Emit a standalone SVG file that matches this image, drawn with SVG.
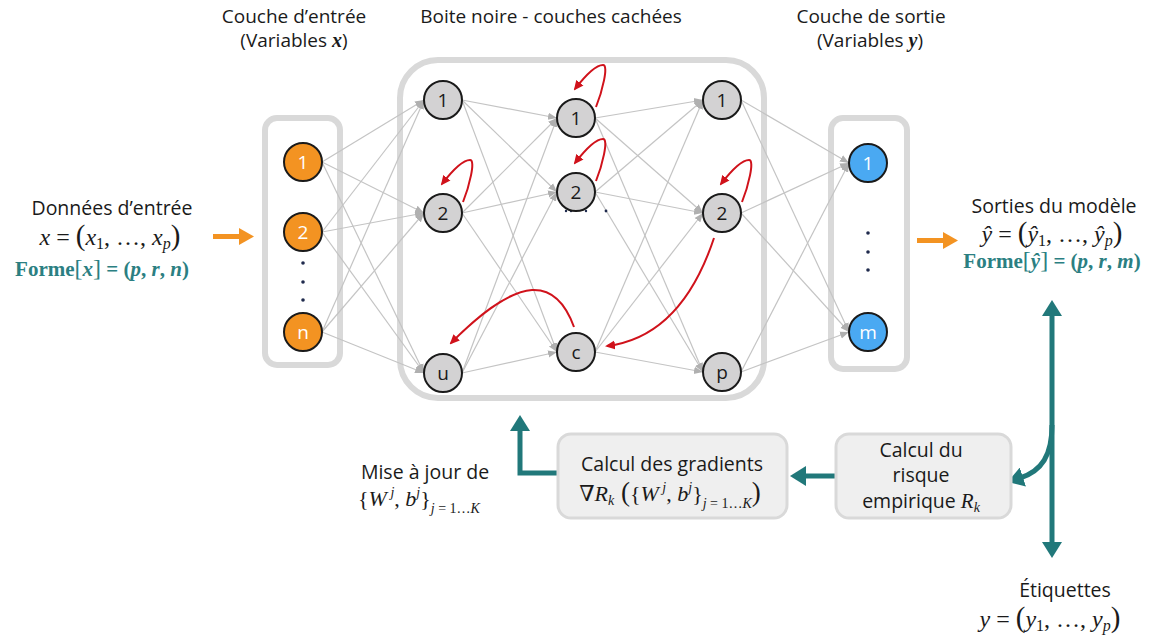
<svg xmlns="http://www.w3.org/2000/svg" width="1164" height="642" viewBox="0 0 1164 642">
  <style>
    .lbl { font-family: "Open Sans", "Noto Sans", sans-serif; font-size: 19.5px; fill: #1a1a1a; }
    .ttl { font-family: "Open Sans", "Noto Sans", sans-serif; font-size: 19px; fill: #1a1a1a; }
    .math { font-family: "Liberation Serif", "DejaVu Serif", serif; fill: #1a1a1a; }
    .forme { font-family: "Liberation Serif", "DejaVu Serif", serif; font-weight: bold; fill: #2b7f82; }
    .it { font-style: italic; }
    .frame { fill: #ffffff; stroke: #d9d9d9; stroke-width: 6; }
    .edge { stroke: #c4c4c4; stroke-width: 1.2; fill: none; marker-end: url(#grayHead); }
    .loop { stroke: #d0121b; stroke-width: 2; fill: none; marker-end: url(#redHead); }
    .teal { stroke: #21787a; stroke-width: 5; fill: none; }
    .node { stroke: #1a1a1a; stroke-width: 2; }
    .hid { fill: #d3d2d3; }
    .inp { fill: #f39322; }
    .out { fill: #4aa9f2; }
    .nl { font-family: "Open Sans", "Noto Sans", sans-serif; font-size: 19px; text-anchor: middle; }
    .dot { fill: #1f2a4d; }
    .box { fill: #efefef; stroke: #d9d9d9; stroke-width: 3; }
  </style>
  <defs>
    <marker id="grayHead" viewBox="0 0 10 10" refX="10" refY="5" markerWidth="9" markerHeight="9" markerUnits="userSpaceOnUse" orient="auto">
      <path d="M0,1 L10,5 L0,9 z" fill="#b0b0b0"/>
    </marker>
    <marker id="redHead" viewBox="0 0 10 10" refX="8" refY="5" markerWidth="10" markerHeight="10" markerUnits="userSpaceOnUse" orient="auto">
      <path d="M0,0.5 L10,5 L0,9.5 z" fill="#d0121b"/>
    </marker>
    <marker id="tealHead" viewBox="0 0 16 20" refX="3" refY="10" markerWidth="16" markerHeight="20" markerUnits="userSpaceOnUse" orient="auto-start-reverse">
      <path d="M0,0 L16,10 L0,20 z" fill="#21787a"/>
    </marker>
    <path id="selfLoop" d="M20,-11 C26,-26 33,-53 27,-53 C20,-53 9,-42 -1,-29"/>
  </defs>

  <!-- layer titles -->
  <g id="titles">
    <text class="ttl" x="294" y="23" text-anchor="middle">Couche d’entrée</text>
    <text class="ttl" x="294" y="47" text-anchor="middle">(Variables <tspan class="math it" font-weight="bold" font-size="20">x</tspan>)</text>
    <text class="ttl" x="551" y="23" text-anchor="middle">Boite noire - couches cachées</text>
    <text class="ttl" x="871" y="23" text-anchor="middle">Couche de sortie</text>
    <text class="ttl" x="870" y="47" text-anchor="middle">(Variables <tspan class="math it" font-weight="bold" font-size="20">y</tspan>)</text>
  </g>

  <!-- layer frames -->
  <g id="frames">
    <rect id="frame-input" class="frame" x="265" y="118" width="75" height="247" rx="12"/>
    <rect id="frame-hidden" class="frame" x="400" y="60" width="364" height="338" rx="38"/>
    <rect id="frame-output" class="frame" x="831" y="118" width="76" height="251" rx="12"/>
  </g>

  <!-- weighted connections between layers -->
  <g id="connectors">
    <path class="edge" d="M322,162 L424,100"/>
    <path class="edge" d="M322,162 L424,213"/>
    <path class="edge" d="M322,162 L424,373"/>
    <path class="edge" d="M322,232 L424,100"/>
    <path class="edge" d="M322,232 L424,213"/>
    <path class="edge" d="M322,232 L424,373"/>
    <path class="edge" d="M322,332 L424,100"/>
    <path class="edge" d="M322,332 L424,213"/>
    <path class="edge" d="M322,332 L424,373"/>

    <path class="edge" d="M462,100 L557,118"/>
    <path class="edge" d="M462,100 L557,192"/>
    <path class="edge" d="M462,100 L557,352"/>
    <path class="edge" d="M462,213 L557,118"/>
    <path class="edge" d="M462,213 L557,192"/>
    <path class="edge" d="M462,213 L557,352"/>
    <path class="edge" d="M462,373 L557,118"/>
    <path class="edge" d="M462,373 L557,192"/>
    <path class="edge" d="M462,373 L557,352"/>

    <path class="edge" d="M595,118 L703,100"/>
    <path class="edge" d="M595,118 L703,213"/>
    <path class="edge" d="M595,118 L703,372"/>
    <path class="edge" d="M595,192 L703,100"/>
    <path class="edge" d="M595,192 L703,213"/>
    <path class="edge" d="M595,192 L703,372"/>
    <path class="edge" d="M595,352 L703,100"/>
    <path class="edge" d="M595,352 L703,213"/>
    <path class="edge" d="M595,352 L703,372"/>

    <path class="edge" d="M741,100 L849,163"/>
    <path class="edge" d="M741,100 L849,332"/>
    <path class="edge" d="M741,213 L849,163"/>
    <path class="edge" d="M741,213 L849,332"/>
    <path class="edge" d="M741,372 L849,163"/>
    <path class="edge" d="M741,372 L849,332"/>

    <!-- recurrent links -->
    <use href="#selfLoop" class="loop" transform="translate(443,213)"/>
    <use href="#selfLoop" class="loop" transform="translate(576,118)"/>
    <use href="#selfLoop" class="loop" transform="translate(576,192)"/>
    <use href="#selfLoop" class="loop" transform="translate(722,213)"/>
    <path class="loop" d="M574,327 C565,302 552,289 532,290 C506,292 476,318 451,343"/>
    <path class="loop" d="M714,238 C700,280 672,338 607,346"/>

    <!-- data flow arrows -->
    <path d="M213,236.5 H241" stroke="#f39322" stroke-width="5" fill="none"/>
    <path d="M239,228 L254,236.5 L239,245 z" fill="#f39322"/>
    <path d="M917,240.5 H945" stroke="#f39322" stroke-width="5" fill="none"/>
    <path d="M943,232 L958,240.5 L943,249 z" fill="#f39322"/>

    <!-- training loop -->
    <path class="teal" d="M1052,313 V545" marker-start="url(#tealHead)" marker-end="url(#tealHead)"/>
    <path class="teal" d="M1052,425 C1052,455 1042,471 1020,478" marker-end="url(#tealHead)"/>
    <path class="teal" d="M835,476 H803" marker-end="url(#tealHead)"/>
    <path class="teal" d="M557,473 H520 V428" marker-end="url(#tealHead)"/>
  </g>

  <!-- input layer -->
  <g id="input-nodes">
    <g id="in-1"><circle class="node inp" cx="303" cy="162" r="19"/><text class="nl" x="303" y="168.5" fill="#ffffff">1</text></g>
    <g id="in-2"><circle class="node inp" cx="303" cy="232" r="19"/><text class="nl" x="303" y="238.5" fill="#ffffff">2</text></g>
    <g id="in-n"><circle class="node inp" cx="303" cy="332" r="19"/><text class="nl" x="303" y="338.5" fill="#ffffff">n</text></g>
    <circle class="dot" cx="303" cy="263" r="1.8"/>
    <circle class="dot" cx="303" cy="282" r="1.8"/>
    <circle class="dot" cx="303" cy="300" r="1.8"/>
  </g>

  <!-- hidden layers -->
  <g id="hidden-1">
    <g id="h1-1"><circle class="node hid" cx="443" cy="100" r="19"/><text class="nl" x="443" y="106.5" fill="#1a1a1a">1</text></g>
    <g id="h1-2"><circle class="node hid" cx="443" cy="213" r="19"/><text class="nl" x="443" y="219.5" fill="#1a1a1a">2</text></g>
    <g id="h1-u"><circle class="node hid" cx="443" cy="373" r="19"/><text class="nl" x="443" y="379.5" fill="#1a1a1a">u</text></g>
  </g>
  <g id="hidden-2">
    <circle class="dot" cx="566" cy="211" r="1.2"/>
    <circle class="dot" cx="571" cy="211" r="1.2"/>
    <circle class="dot" cx="586" cy="211" r="1.2"/>
    <circle class="dot" cx="606" cy="211" r="1.4"/>
    <g id="h2-1"><circle class="node hid" cx="576" cy="118" r="19"/><text class="nl" x="576" y="124.5" fill="#1a1a1a">1</text></g>
    <g id="h2-2"><circle class="node hid" cx="576" cy="192" r="19"/><text class="nl" x="576" y="198.5" fill="#1a1a1a">2</text></g>
    <g id="h2-c"><circle class="node hid" cx="576" cy="352" r="19"/><text class="nl" x="576" y="358.5" fill="#1a1a1a">c</text></g>
  </g>
  <g id="hidden-3">
    <g id="h3-1"><circle class="node hid" cx="722" cy="100" r="19"/><text class="nl" x="722" y="106.5" fill="#1a1a1a">1</text></g>
    <g id="h3-2"><circle class="node hid" cx="722" cy="213" r="19"/><text class="nl" x="722" y="219.5" fill="#1a1a1a">2</text></g>
    <g id="h3-p"><circle class="node hid" cx="722" cy="372" r="19"/><text class="nl" x="722" y="378.5" fill="#1a1a1a">p</text></g>
  </g>

  <!-- output layer -->
  <g id="output-nodes">
    <g id="out-1"><circle class="node out" cx="868" cy="163" r="19"/><text class="nl" x="868" y="169.5" fill="#ffffff">1</text></g>
    <g id="out-m"><circle class="node out" cx="868" cy="332" r="19"/><text class="nl" x="868" y="338.5" fill="#ffffff">m</text></g>
    <circle class="dot" cx="868" cy="233" r="1.8"/>
    <circle class="dot" cx="868" cy="252" r="1.8"/>
    <circle class="dot" cx="868" cy="270" r="1.8"/>
  </g>

  <!-- input data -->
  <g id="input-data">
    <text class="lbl" x="112" y="215" text-anchor="middle">Données d’entrée</text>
    <text class="math" x="110" y="245" font-size="24" text-anchor="middle"><tspan class="it">x</tspan> = <tspan font-size="29">(</tspan><tspan class="it">x</tspan><tspan font-size="16" dy="4">1</tspan><tspan dy="-4">, …, </tspan><tspan class="it">x</tspan><tspan class="it" font-size="16" dy="4">p</tspan><tspan dy="-4" font-size="29">)</tspan></text>
    <text class="forme" x="102" y="276" font-size="21" text-anchor="middle">Forme<tspan font-weight="normal" font-size="24">[</tspan><tspan class="it">x</tspan><tspan font-weight="normal" font-size="24">]</tspan> = (<tspan class="it">p</tspan>, <tspan class="it">r</tspan>, <tspan class="it">n</tspan>)</text>
  </g>

  <!-- model outputs -->
  <g id="model-outputs">
    <text class="lbl" x="1054" y="213" text-anchor="middle">Sorties du modèle</text>
    <text class="math" x="1052" y="242" font-size="24" text-anchor="middle"><tspan class="it">ŷ</tspan> = <tspan font-size="29">(</tspan><tspan class="it">ŷ</tspan><tspan font-size="16" dy="4">1</tspan><tspan dy="-4">, …, </tspan><tspan class="it">ŷ</tspan><tspan class="it" font-size="16" dy="4">p</tspan><tspan dy="-4" font-size="29">)</tspan></text>
    <text class="forme" x="1052" y="268" font-size="21" text-anchor="middle">Forme<tspan font-weight="normal" font-size="24">[</tspan><tspan class="it">ŷ</tspan><tspan font-weight="normal" font-size="24">]</tspan> = (<tspan class="it">p</tspan>, <tspan class="it">r</tspan>, <tspan class="it">m</tspan>)</text>
  </g>

  <!-- gradient computation -->
  <g id="gradients">
    <rect class="box" x="558" y="434" width="229" height="84" rx="13"/>
    <text class="lbl" x="672" y="471" text-anchor="middle">Calcul des gradients</text>
    <text class="math" x="670" y="501" font-size="22" text-anchor="middle">∇<tspan class="it">R</tspan><tspan class="it" font-size="14" dy="4">k</tspan><tspan dy="-4" font-size="27"> (</tspan>{<tspan class="it">W</tspan><tspan class="it" font-size="14" dy="-9"> j</tspan><tspan dy="9">, </tspan><tspan class="it">b</tspan><tspan class="it" font-size="14" dy="-9">j</tspan><tspan dy="9">}</tspan><tspan class="it" font-size="14" dy="7">j</tspan><tspan font-size="14"> = 1…</tspan><tspan class="it" font-size="14">K</tspan><tspan dy="-7" font-size="27">)</tspan></text>
  </g>

  <!-- empirical risk -->
  <g id="risk">
    <rect class="box" x="836" y="434" width="175" height="84" rx="13"/>
    <text class="lbl" x="921" y="457" text-anchor="middle">Calcul du</text>
    <text class="lbl" x="921" y="482" text-anchor="middle">risque</text>
    <text class="lbl" x="921" y="508" text-anchor="middle">empirique <tspan class="math it" font-size="21">R</tspan><tspan class="math it" font-size="14" dy="4">k</tspan></text>
  </g>

  <!-- weight update -->
  <g id="update">
    <text class="lbl" x="425" y="479" text-anchor="middle">Mise à jour de</text>
    <text class="math" x="358" y="506" font-size="22">{<tspan class="it">W</tspan><tspan class="it" font-size="14" dy="-9"> j</tspan><tspan dy="9">, </tspan><tspan class="it">b</tspan><tspan class="it" font-size="14" dy="-9">j</tspan><tspan dy="9">}</tspan><tspan class="it" font-size="14" dy="7">j</tspan><tspan font-size="14"> = 1…</tspan><tspan class="it" font-size="14">K</tspan></text>
  </g>

  <!-- labels -->
  <g id="labels">
    <text class="lbl" x="1065" y="597" text-anchor="middle">Étiquettes</text>
    <text class="math" x="1050" y="627" font-size="24" text-anchor="middle"><tspan class="it">y</tspan> = <tspan font-size="29">(</tspan><tspan class="it">y</tspan><tspan font-size="16" dy="4">1</tspan><tspan dy="-4">, …, </tspan><tspan class="it">y</tspan><tspan class="it" font-size="16" dy="4">p</tspan><tspan dy="-4" font-size="29">)</tspan></text>
  </g>
</svg>
